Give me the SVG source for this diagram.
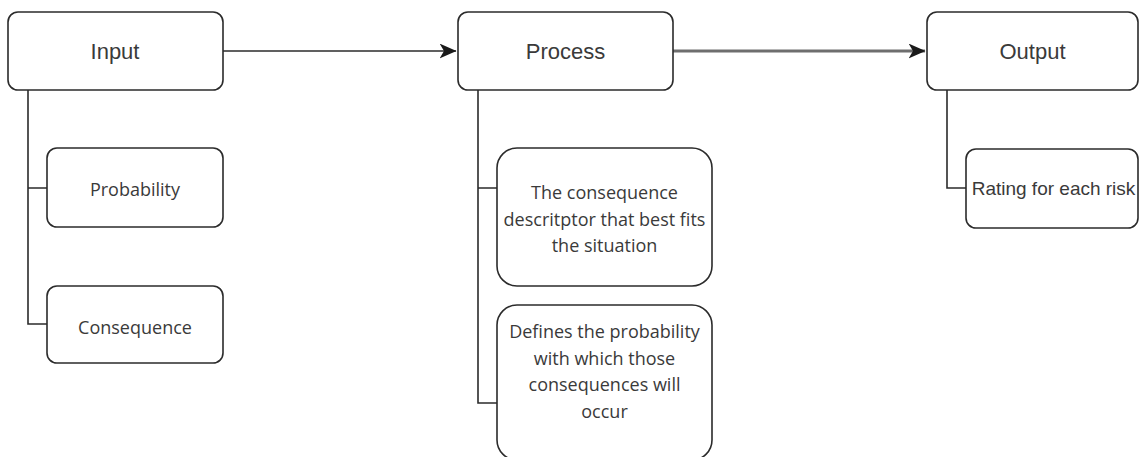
<svg xmlns="http://www.w3.org/2000/svg" width="1139" height="457" viewBox="0 0 1139 457">
  <style>
    .box { fill: #ffffff; stroke: #2b2b2b; stroke-width: 1.6; }
    .wire { fill: none; stroke: #2b2b2b; stroke-width: 1.6; }
    .head { font-family: "Liberation Sans", Arial, sans-serif; font-size: 22px; fill: #3a3a3a; text-anchor: middle; }
    .sub { font-family: "Open Sans", "Noto Sans", sans-serif; font-size: 18px; fill: #3a3a3a; text-anchor: middle; }
    .subarial { font-family: "Liberation Sans", Arial, sans-serif; font-size: 19px; fill: #3a3a3a; text-anchor: middle; }
  </style>
  <defs>
    <marker id="arrowDark" viewBox="0 0 17 15" refX="16.5" refY="7.5" markerWidth="17" markerHeight="15" markerUnits="userSpaceOnUse" orient="auto">
      <path d="M0 0 L17 7.5 L0 15 L4.5 7.5 Z" fill="#1a1a1a"/>
    </marker>
  </defs>

  <rect width="1139" height="457" fill="#ffffff"/>

  <!-- connectors -->
  <g id="connectors">
    <path class="wire" d="M223 51 H456" stroke-width="2" marker-end="url(#arrowDark)"/>
    <path d="M673 51 H925" fill="none" stroke="#6e6e6e" stroke-width="2.8" marker-end="url(#arrowDark)"/>
    <path class="wire" d="M28 90 V188 H47 M28 188 V324 H47"/>
    <path class="wire" d="M478 90 V188 H497 M478 188 V403 H497"/>
    <path class="wire" d="M947 90 V188 H966"/>
  </g>

  <g id="input">
    <rect class="box" x="8" y="12" width="215" height="78" rx="10"/>
    <text class="head" x="115" y="59">Input</text>
  </g>

  <g id="process">
    <rect class="box" x="458" y="12" width="215" height="78" rx="10"/>
    <text class="head" x="565.5" y="59">Process</text>
  </g>

  <g id="output">
    <rect class="box" x="927" y="12" width="211" height="78" rx="10"/>
    <text class="head" x="1032.5" y="59">Output</text>
  </g>

  <g id="probability">
    <rect class="box" x="47" y="148" width="176" height="79" rx="10"/>
    <text class="sub" x="135" y="196">Probability</text>
  </g>

  <g id="consequence">
    <rect class="box" x="47" y="286" width="176" height="77" rx="10"/>
    <text class="sub" x="135" y="334" font-size="16.5">Consequence</text>
  </g>

  <g id="descriptor">
    <rect class="box" x="497" y="148" width="215" height="138" rx="20"/>
    <text class="sub" x="604.5" y="199">The consequence</text>
    <text class="sub" x="604.5" y="225.5">descritptor that best fits</text>
    <text class="sub" x="604.5" y="252">the situation</text>
  </g>

  <g id="likelihood">
    <rect class="box" x="497" y="305" width="215" height="155" rx="20"/>
    <text class="sub" x="604.5" y="338">Defines the probability</text>
    <text class="sub" x="604.5" y="364.5">with which those</text>
    <text class="sub" x="604.5" y="391">consequences will</text>
    <text class="sub" x="604.5" y="417.5">occur</text>
  </g>

  <g id="rating">
    <rect class="box" x="966" y="149" width="172" height="79" rx="10"/>
    <text class="subarial" x="1053.5" y="195">Rating for each risk</text>
  </g>
</svg>
